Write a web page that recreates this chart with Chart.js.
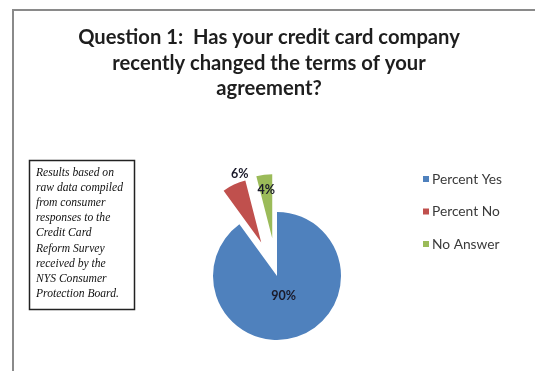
<!DOCTYPE html>
<html>
<head>
<meta charset="utf-8">
<script src="https://cdn.jsdelivr.net/npm/chart.js@4.4.0/dist/chart.umd.min.js"></script>
<style>
  html, body { margin: 0; padding: 0; background: #ffffff; }
  #wrap { position: relative; width: 535px; height: 371px; }
  canvas { display: block; }
</style>
</head>
<body>
<div id="wrap"><canvas id="c" width="535" height="371"></canvas></div>
<script>
// ---- data ----
const categories = ["Percent Yes", "Percent No", "No Answer"];
const percentValues = [90, 6, 4];
const valueLabels = ["90%", "6%", "4%"];
const titleLines = ["Question 1:  Has your credit card company", "recently changed the terms of your", "agreement?"];
const noteLines = ["Results based on", "raw data compiled", "from consumer", "responses to the", "Credit Card", "Reform Survey", "received by the", "NYS Consumer", "Protection Board."];

// ---- style ----
const colors = ["#4F81BD", "#C0504D", "#9BBB59"];
const explode = [0, 37, 38];
const labelPlace = [ {d: 0.33, dx: 0, dy: 0}, {d: 1.12, dx: 9, dy: -4}, {d: 0.76, dx: 0, dy: 0} ];

// exploded slices: translate the library-drawn arc along its mid angle
const ArcProto = Chart.ArcElement.prototype;
const baseArcDraw = ArcProto.draw;
ArcProto.draw = function (ctx) {
  const i = this.$context ? this.$context.dataIndex : -1;
  const e = explode[i] || 0;
  if (!e) { baseArcDraw.call(this, ctx); return; }
  const h = (this.startAngle + this.endAngle) / 2;
  ctx.save();
  ctx.translate(Math.cos(h) * e, Math.sin(h) * e);
  baseArcDraw.call(this, ctx);
  ctx.restore();
};

function fitFont(ctx, text, weight, style, family, targetW) {
  ctx.font = style + " " + weight + " 100px " + family;
  const w = ctx.measureText(text).width;
  return 100 * targetW / w;
}

const decorPlugin = {
  id: 'decor',
  beforeDraw(chart) {
    const ctx = chart.ctx;
    ctx.save();
    ctx.fillStyle = '#ffffff';
    ctx.fillRect(0, 0, chart.width, chart.height);
    ctx.strokeStyle = '#8a8a8a';
    ctx.lineWidth = 2;
    ctx.beginPath();
    ctx.moveTo(13, 371);
    ctx.lineTo(13, 10);
    ctx.lineTo(535, 10);
    ctx.stroke();
    ctx.restore();
  },
  afterDraw(chart) {
    const ctx = chart.ctx;
    ctx.save();
    // title
    const tf = "Lato, 'Open Sans', sans-serif";
    const ts = fitFont(ctx, titleLines[0], 'bold', 'normal', tf, 382);
    ctx.font = 'bold ' + ts.toFixed(2) + 'px ' + tf;
    ctx.fillStyle = '#1e1e1e';
    ctx.textAlign = 'center';
    ctx.textBaseline = 'alphabetic';
    titleLines.forEach((t, i) => ctx.fillText(t, 269, 44 + i * 25.5));

    // note box
    ctx.strokeStyle = '#222222';
    ctx.lineWidth = 1.5;
    ctx.strokeRect(29.5, 160.5, 105, 149);
    const nf = "'Liberation Serif', 'DejaVu Serif', serif";
    const ns = fitFont(ctx, noteLines[1], 'normal', 'italic', nf, 87);
    ctx.font = 'italic ' + ns.toFixed(2) + 'px ' + nf;
    ctx.fillStyle = '#111111';
    ctx.textAlign = 'left';
    noteLines.forEach((t, i) => ctx.fillText(t, 36, 176 + i * 15.1));

    // legend
    const lf = "Lato, 'Open Sans', sans-serif";
    const ls = fitFont(ctx, categories[0], 'normal', 'normal', lf, 70);
    ctx.font = ls.toFixed(2) + 'px ' + lf;
    ctx.textBaseline = 'middle';
    categories.forEach((c, i) => {
      const y = 179 + i * 32.5;
      ctx.fillStyle = colors[i];
      ctx.fillRect(423, y - 3, 6, 6);
      ctx.fillStyle = '#3a3a3a';
      ctx.fillText(c, 432, y + 0.5);
    });

    // value labels
    const meta = chart.getDatasetMeta(0);
    ctx.font = 'bold 12.5px ' + lf;
    ctx.fillStyle = '#1a1a2a';
    ctx.textAlign = 'center';
    ctx.textBaseline = 'middle';
    meta.data.forEach((arc, i) => {
      const p = arc.getProps(['x', 'y', 'startAngle', 'endAngle', 'outerRadius'], true);
      const mid = (p.startAngle + p.endAngle) / 2;
      const lp = labelPlace[i];
      const dist = (explode[i] || 0) + lp.d * p.outerRadius;
      ctx.fillText(valueLabels[i], p.x + Math.cos(mid) * dist + lp.dx, p.y + Math.sin(mid) * dist + lp.dy);
    });
    ctx.restore();
  }
};

new Chart(document.getElementById('c'), {
  type: 'pie',
  data: {
    labels: categories,
    datasets: [{
      data: percentValues,
      backgroundColor: colors,
      borderWidth: 0,
      radius: 64,
      clip: false
    }]
  },
  options: {
    responsive: false,
    animation: false,
    events: [],
    layout: { padding: { left: 227, right: 208, top: 226, bottom: 45 } },
    plugins: {
      legend: { display: false },
      title: { display: false },
      tooltip: { enabled: false }
    }
  },
  plugins: [decorPlugin]
});
</script>
</body>
</html>
